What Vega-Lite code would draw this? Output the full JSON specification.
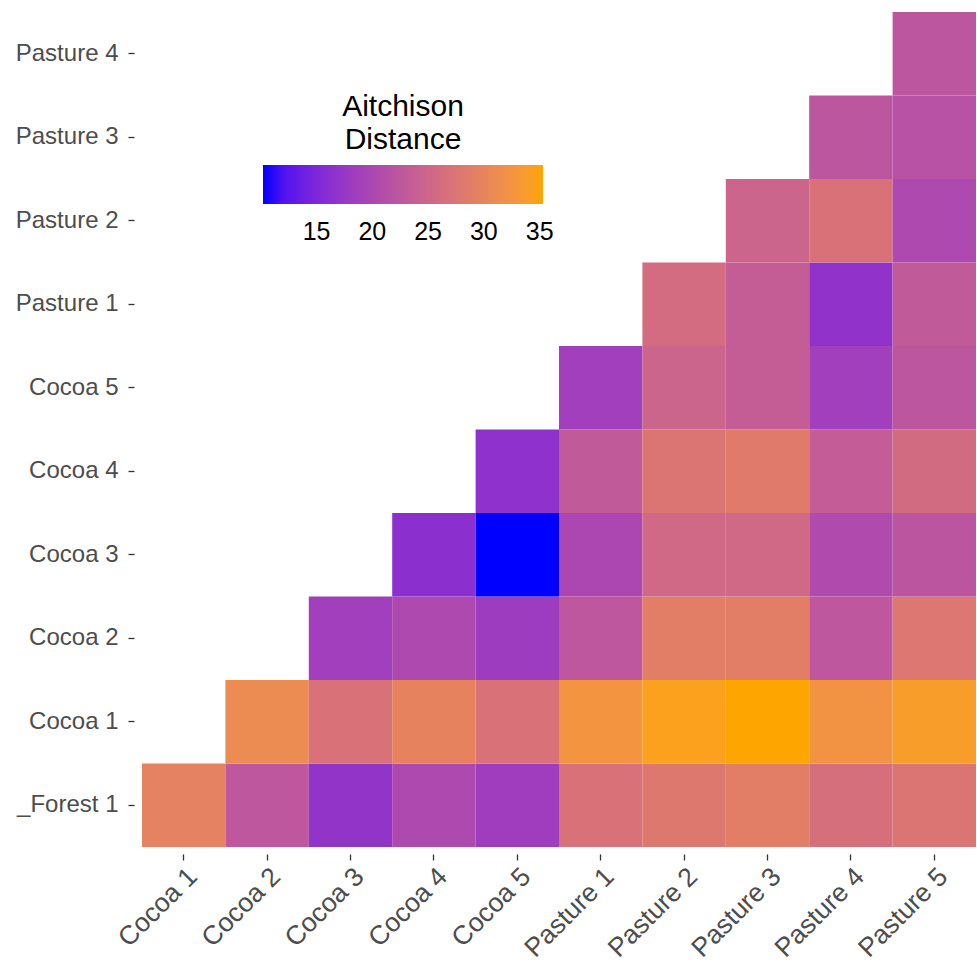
{
  "$schema": "https://vega.github.io/schema/vega-lite/v6.json",
  "width": 834,
  "height": 835,
  "autosize": {"type": "none"},
  "padding": {"left": 142, "top": 12, "right": 1, "bottom": 121},
  "background": "white",
  "config": {"view": {"stroke": null}, "font": "Liberation Sans"},
  "data": {"values": [
    {"x": "Cocoa 1", "y": "_Forest 1", "d": 29.5},
    {"x": "Cocoa 2", "y": "_Forest 1", "d": 22.5},
    {"x": "Cocoa 3", "y": "_Forest 1", "d": 17.0},
    {"x": "Cocoa 4", "y": "_Forest 1", "d": 20.3},
    {"x": "Cocoa 5", "y": "_Forest 1", "d": 18.4},
    {"x": "Pasture 1", "y": "_Forest 1", "d": 27.0},
    {"x": "Pasture 2", "y": "_Forest 1", "d": 28.0},
    {"x": "Pasture 3", "y": "_Forest 1", "d": 29.0},
    {"x": "Pasture 4", "y": "_Forest 1", "d": 26.5},
    {"x": "Pasture 5", "y": "_Forest 1", "d": 27.5},
    {"x": "Cocoa 2", "y": "Cocoa 1", "d": 31.0},
    {"x": "Cocoa 3", "y": "Cocoa 1", "d": 27.0},
    {"x": "Cocoa 4", "y": "Cocoa 1", "d": 29.8},
    {"x": "Cocoa 5", "y": "Cocoa 1", "d": 27.0},
    {"x": "Pasture 1", "y": "Cocoa 1", "d": 32.5},
    {"x": "Pasture 2", "y": "Cocoa 1", "d": 34.6},
    {"x": "Pasture 3", "y": "Cocoa 1", "d": 35.3},
    {"x": "Pasture 4", "y": "Cocoa 1", "d": 32.3},
    {"x": "Pasture 5", "y": "Cocoa 1", "d": 34.0},
    {"x": "Cocoa 3", "y": "Cocoa 2", "d": 18.6},
    {"x": "Cocoa 4", "y": "Cocoa 2", "d": 20.3},
    {"x": "Cocoa 5", "y": "Cocoa 2", "d": 18.2},
    {"x": "Pasture 1", "y": "Cocoa 2", "d": 22.5},
    {"x": "Pasture 2", "y": "Cocoa 2", "d": 29.0},
    {"x": "Pasture 3", "y": "Cocoa 2", "d": 29.0},
    {"x": "Pasture 4", "y": "Cocoa 2", "d": 22.5},
    {"x": "Pasture 5", "y": "Cocoa 2", "d": 27.8},
    {"x": "Cocoa 4", "y": "Cocoa 3", "d": 16.2},
    {"x": "Cocoa 5", "y": "Cocoa 3", "d": 10.2},
    {"x": "Pasture 1", "y": "Cocoa 3", "d": 20.0},
    {"x": "Pasture 2", "y": "Cocoa 3", "d": 25.5},
    {"x": "Pasture 3", "y": "Cocoa 3", "d": 25.5},
    {"x": "Pasture 4", "y": "Cocoa 3", "d": 20.5},
    {"x": "Pasture 5", "y": "Cocoa 3", "d": 22.2},
    {"x": "Cocoa 5", "y": "Cocoa 4", "d": 16.5},
    {"x": "Pasture 1", "y": "Cocoa 4", "d": 23.0},
    {"x": "Pasture 2", "y": "Cocoa 4", "d": 27.5},
    {"x": "Pasture 3", "y": "Cocoa 4", "d": 28.5},
    {"x": "Pasture 4", "y": "Cocoa 4", "d": 23.3},
    {"x": "Pasture 5", "y": "Cocoa 4", "d": 25.8},
    {"x": "Pasture 1", "y": "Cocoa 5", "d": 18.6},
    {"x": "Pasture 2", "y": "Cocoa 5", "d": 24.8},
    {"x": "Pasture 3", "y": "Cocoa 5", "d": 23.5},
    {"x": "Pasture 4", "y": "Cocoa 5", "d": 18.6},
    {"x": "Pasture 5", "y": "Cocoa 5", "d": 22.3},
    {"x": "Pasture 2", "y": "Pasture 1", "d": 26.0},
    {"x": "Pasture 3", "y": "Pasture 1", "d": 23.5},
    {"x": "Pasture 4", "y": "Pasture 1", "d": 16.8},
    {"x": "Pasture 5", "y": "Pasture 1", "d": 23.0},
    {"x": "Pasture 3", "y": "Pasture 2", "d": 24.8},
    {"x": "Pasture 4", "y": "Pasture 2", "d": 27.0},
    {"x": "Pasture 5", "y": "Pasture 2", "d": 20.3},
    {"x": "Pasture 4", "y": "Pasture 3", "d": 22.3},
    {"x": "Pasture 5", "y": "Pasture 3", "d": 21.7},
    {"x": "Pasture 5", "y": "Pasture 4", "d": 22.3}
  ]},
  "mark": {"type": "rect"},
  "encoding": {
    "x": {
      "field": "x", "type": "nominal",
      "sort": ["Cocoa 1", "Cocoa 2", "Cocoa 3", "Cocoa 4", "Cocoa 5", "Pasture 1", "Pasture 2", "Pasture 3", "Pasture 4", "Pasture 5"],
      "scale": {"paddingInner": 0, "paddingOuter": 0},
      "axis": {
        "title": null, "domain": false, "grid": false,
        "offset": 7, "tickSize": 6, "tickColor": "#333333", "tickWidth": 1.3,
        "labelAngle": -45, "labelAlign": "right", "labelBaseline": "top",
        "labelFontSize": 26.5, "labelColor": "#4D4D4D", "labelPadding": 3,
        "labelFont": "Liberation Sans"
      }
    },
    "y": {
      "field": "y", "type": "nominal",
      "sort": ["Pasture 4", "Pasture 3", "Pasture 2", "Pasture 1", "Cocoa 5", "Cocoa 4", "Cocoa 3", "Cocoa 2", "Cocoa 1", "_Forest 1"],
      "scale": {"paddingInner": 0, "paddingOuter": 0},
      "axis": {
        "title": null, "domain": false, "grid": false,
        "offset": 8, "tickSize": 6, "tickColor": "#333333", "tickWidth": 1.3,
        "labelFontSize": 24, "labelColor": "#4D4D4D", "labelPadding": 10,
        "labelFont": "Liberation Sans"
      }
    },
    "color": {
      "field": "d", "type": "quantitative",
      "scale": {"domain": [10.2, 35.3], "range": ["#0000FF", "#FFA500"], "interpolate": "lab"},
      "legend": {
        "title": ["Aitchison", "Distance"],
        "orient": "none",
        "legendX": 121,
        "legendY": 80,
        "direction": "horizontal",
        "gradientLength": 280,
        "gradientThickness": 39,
        "gradientStrokeWidth": 0,
        "values": [15, 20, 25, 30, 35],
        "titleFontSize": 30,
        "titleFontWeight": "normal",
        "titleColor": "black",
        "titleAnchor": "middle",
        "titleAlign": "center",
        "titleLineHeight": 33,
        "titlePadding": 10,
        "labelFontSize": 25,
        "labelColor": "black",
        "labelOffset": 16,
        "labelOverlap": false,
        "labelFont": "Liberation Sans",
        "titleFont": "Liberation Sans"
      }
    }
  }
}
